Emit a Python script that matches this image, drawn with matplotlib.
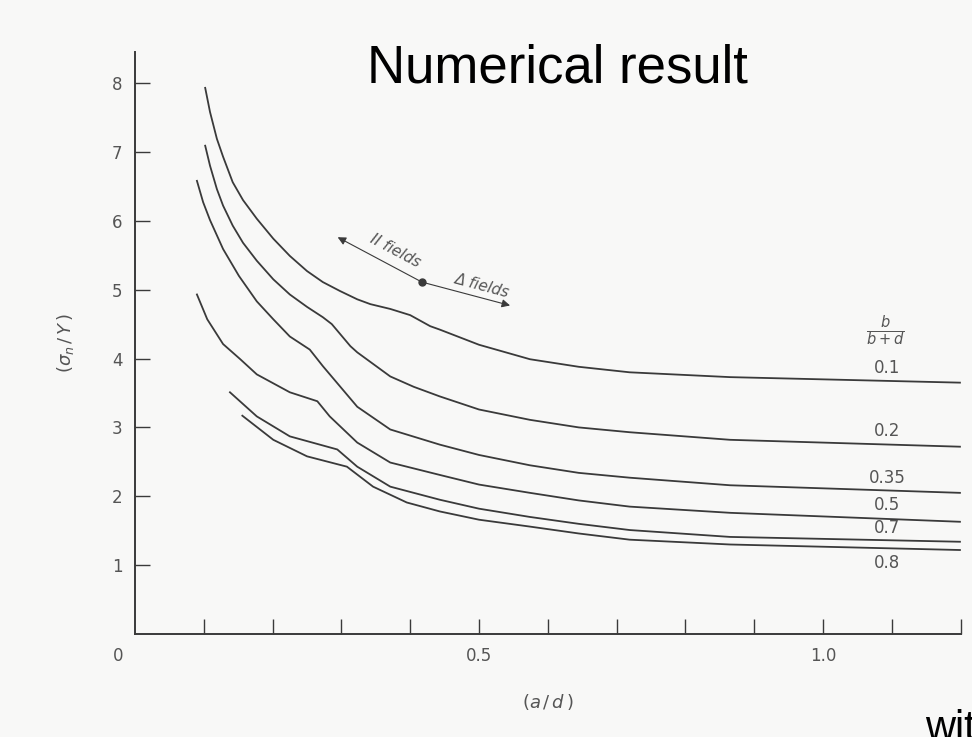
import numpy as np
import matplotlib
matplotlib.use("Agg")
import matplotlib.pyplot as plt

# curves: x = a/d, y = sigma_n / Y, one per b/(b+d)
ratio_labels = ["0.1", "0.2", "0.35", "0.5", "0.7", "0.8"]

x_01 = [0.102, 0.109, 0.119, 0.128, 0.142, 0.157, 0.177, 0.201, 0.225, 0.250, 0.273, 0.298, 0.323, 0.342,
        0.371, 0.400, 0.429, 0.443, 0.500, 0.574, 0.645, 0.719, 0.865, 1.199]
y_01 = [7.93, 7.58, 7.19, 6.93, 6.56, 6.30, 6.03, 5.74, 5.49, 5.27, 5.11, 4.98, 4.86, 4.79,
        4.72, 4.63, 4.47, 4.42, 4.20, 3.99, 3.88, 3.80, 3.73, 3.65]

x_02 = [0.102, 0.109, 0.119, 0.128, 0.142, 0.157, 0.177, 0.201, 0.225, 0.250, 0.273, 0.286, 0.313, 0.323,
        0.371, 0.405, 0.443, 0.500, 0.574, 0.645, 0.719, 0.865, 1.199]
y_02 = [7.09, 6.80, 6.46, 6.22, 5.93, 5.68, 5.42, 5.15, 4.93, 4.75, 4.60, 4.50, 4.18, 4.09,
        3.74, 3.59, 3.45, 3.26, 3.11, 3.00, 2.93, 2.82, 2.72]

x_035 = [0.090, 0.099, 0.109, 0.128, 0.151, 0.177, 0.201, 0.225, 0.254, 0.273, 0.323, 0.371, 0.443,
         0.500, 0.574, 0.645, 0.719, 0.865, 1.199]
y_035 = [6.58, 6.27, 6.01, 5.59, 5.20, 4.83, 4.57, 4.32, 4.13, 3.89, 3.30, 2.97, 2.75,
         2.60, 2.45, 2.34, 2.27, 2.16, 2.05]

x_05 = [0.090, 0.105, 0.128, 0.153, 0.177, 0.225, 0.265, 0.283, 0.323, 0.371, 0.443, 0.500, 0.574,
        0.645, 0.719, 0.865, 1.199]
y_05 = [4.93, 4.57, 4.21, 3.99, 3.77, 3.51, 3.38, 3.16, 2.78, 2.49, 2.31, 2.17, 2.05,
        1.94, 1.85, 1.76, 1.63]

x_07 = [0.138, 0.177, 0.225, 0.294, 0.323, 0.371, 0.443, 0.500, 0.574, 0.645, 0.719, 0.865, 1.199]
y_07 = [3.51, 3.16, 2.87, 2.68, 2.43, 2.14, 1.95, 1.82, 1.70, 1.60, 1.51, 1.41, 1.34]

x_08 = [0.156, 0.201, 0.250, 0.308, 0.346, 0.395, 0.443, 0.500, 0.574, 0.645, 0.719, 0.865, 1.199]
y_08 = [3.17, 2.82, 2.58, 2.43, 2.14, 1.91, 1.78, 1.66, 1.56, 1.46, 1.37, 1.30, 1.22]

curves = [(x_01, y_01), (x_02, y_02), (x_035, y_035), (x_05, y_05), (x_07, y_07), (x_08, y_08)]
label_y = [3.86, 2.95, 2.27, 1.88, 1.54, 1.03]

ink = "#3a3a3a"
grey = "#555555"
bg = "#f8f8f7"

fig = plt.figure(figsize=(9.72, 7.37), dpi=100, facecolor=bg)
ax = fig.add_axes([0.1389, 0.1397, 0.8494, 0.7897], facecolor=bg)

for (xs, ys) in curves:
    ax.plot(xs, ys, color=ink, lw=1.3, solid_joinstyle="round")

ax.set_xlim(0, 1.2)
ax.set_ylim(0, 8.45)
for s in ["top", "right"]:
    ax.spines[s].set_visible(False)
for s in ["left", "bottom"]:
    ax.spines[s].set_color(ink)
    ax.spines[s].set_linewidth(1.4)

ax.set_xticks(np.arange(0.1, 1.25, 0.1))
ax.set_xticklabels(["", "", "", "", "0.5", "", "", "", "", "1.0", "", ""])
ax.set_yticks(range(1, 9))
ax.set_yticklabels([str(v) for v in range(1, 9)])
ax.tick_params(direction="in", length=11, width=1.0, color=ink,
               labelsize=12, labelcolor=grey, pad=9)
ax.text(-0.025, -0.32, "0", fontsize=12, color=grey, ha="center", va="center")

ax.set_xlabel(r"$(a\,/\,d\,)$", fontsize=13, color=grey, labelpad=20)
ax.set_ylabel(r"$(\sigma_n\,/\,Y\,)$", fontsize=13, color=grey, labelpad=26)

# right hand labels
ax.text(1.09, 4.41, r"$\frac{b}{b+d}$", fontsize=15, color=grey, ha="center", va="center")
for lab, yy in zip(ratio_labels, label_y):
    ax.text(1.093, yy, lab, fontsize=12, color=grey, ha="center", va="center")

# field annotation
dot = (0.417, 5.11)
ax.plot(*dot, "o", color=ink, ms=5)
ax.annotate("", xy=(0.291, 5.78), xytext=dot,
            arrowprops=dict(arrowstyle="-|>", color=ink, lw=0.8, mutation_scale=12))
ax.annotate("", xy=(0.549, 4.76), xytext=dot,
            arrowprops=dict(arrowstyle="-|>", color=ink, lw=0.8, mutation_scale=12))
ax.text(0.378, 5.56, "II fields", fontsize=11, color=grey, style="italic",
        rotation=-28, ha="center", va="center")
ax.text(0.504, 5.05, "Δ fields", fontsize=11, color=grey, style="italic",
        rotation=-15, ha="center", va="center")

fig.text(0.5735, 0.8887, "Numerical result", fontsize=38, family="Liberation Sans",
         ha="center", va="baseline", color="black")
fig.text(0.952, -0.004, "with", fontsize=30, family="Liberation Sans",
         ha="left", va="baseline", color="black")

fig.savefig("out.png", dpi=100, facecolor=bg)
